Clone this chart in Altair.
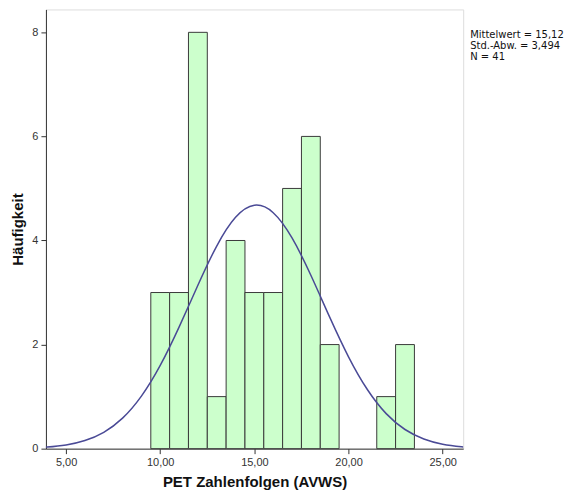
import altair as alt
import pandas as pd

# Histogram bins (centers, width 1) and counts
bin_centers = [10, 11, 12, 13, 14, 15, 16, 17, 18, 19, 22, 23]
counts = [3, 3, 8, 1, 4, 3, 3, 5, 6, 2, 1, 2]

# Normal curve
curve_x = [3.9, 4, 5, 6, 7, 8, 9, 10, 11, 12, 13, 14, 15, 16, 17, 18, 19, 20, 21, 22, 23, 24, 25, 26, 26.1]
curve_y = [0.028, 0.030, 0.071, 0.155, 0.314, 0.586, 1.009, 1.599, 2.335, 3.140, 3.893, 4.445, 4.677,
           4.534, 4.049, 3.332, 2.527, 1.765, 1.136, 0.673, 0.368, 0.185, 0.086, 0.037, 0.034]

stats_lines = ["Mittelwert = 15,12", "Std.-Abw. = 3,494", "N = 41"]

bars_df = pd.DataFrame({"center": bin_centers, "count": counts})
curve_df = pd.DataFrame({"x": curve_x, "y": curve_y})

x_scale = alt.Scale(domain=[3.93, 26.09], nice=False, zero=False)
y_scale = alt.Scale(domain=[0, 8.44], nice=False)

FONT = "Liberation Sans"

x_axis = alt.Axis(values=[5, 10, 15, 20, 25],
                  labelExpr="replace(format(datum.value, '.2f'), '.', ',')",
                  grid=False, tickSize=5, labelPadding=3, labelFontSize=11,
                  labelColor="#333333", domainColor="#333333", tickColor="#333333",
                  title="PET Zahlenfolgen (AVWS)", titleFontSize=15, titleFont=FONT,
                  titleFontWeight="bold", titleColor="#111111", titlePadding=7,
                  labelFont=FONT)
y_axis = alt.Axis(values=[0, 2, 4, 6, 8], grid=False, tickSize=5, labelPadding=3,
                  labelFontSize=11, labelColor="#333333", domainColor="#333333",
                  tickColor="#333333", title="Häufigkeit", titleFontSize=15,
                  titleFont=FONT, titleFontWeight="bold", titleColor="#111111",
                  titlePadding=6, labelFont=FONT)

bars = alt.Chart(bars_df).transform_calculate(
    x0="datum.center - 0.5", x1="datum.center + 0.5"
).mark_rect(fill="#ccffcc", stroke="#3a3a3a", strokeWidth=1).encode(
    x=alt.X("x0:Q", scale=x_scale, axis=x_axis),
    x2="x1:Q",
    y=alt.Y("count:Q", scale=y_scale, axis=y_axis),
    y2=alt.datum(0),
)

curve = alt.Chart(curve_df).mark_line(color="#4a4a96", strokeWidth=1.5,
                                      interpolate="natural", clip=True).encode(
    x=alt.X("x:Q", scale=x_scale),
    y=alt.Y("y:Q", scale=y_scale),
)

stat_layers = []
for i, line in enumerate(stats_lines):
    stat_layers.append(
        alt.Chart(pd.DataFrame({"text": [line]})).mark_text(
            align="left", baseline="middle", fontSize=10, font="DejaVu Sans", color="#111111"
        ).encode(x=alt.value(425), y=alt.value(26 + 11 * i), text="text:N")
    )

chart = alt.layer(bars, curve, *stat_layers).properties(
    width=418, height=440,
    autosize=alt.AutoSizeParams(type="none"),
    padding={"left": 38, "top": 1, "right": 104, "bottom": 48},
).configure_view(fill="#efefef", stroke="#777777", strokeWidth=1.5
).configure(background="white")

chart.save("out.html", embed_options={"renderer": "svg", "actions": False})
